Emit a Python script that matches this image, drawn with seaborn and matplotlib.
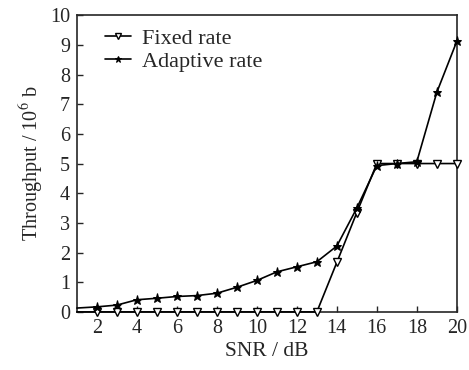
import matplotlib
matplotlib.use("Agg")
import matplotlib.pyplot as plt
import seaborn as sns
import pandas as pd

snr = [1, 2, 3, 4, 5, 6, 7, 8, 9, 10, 11, 12, 13, 14, 15, 16, 17, 18, 19, 20]
fixed_rate = [0, 0, 0, 0, 0, 0, 0, 0, 0, 0, 0, 0, 0, 1.67, 3.35, 5.0, 5.0, 5.0, 5.0, 5.0]
adaptive_rate = [0.13, 0.17, 0.23, 0.41, 0.46, 0.52, 0.55, 0.63, 0.83, 1.06, 1.35, 1.52, 1.69, 2.22, 3.5, 4.93, 5.0, 5.06, 7.4, 9.12]
series_names = ["Fixed rate", "Adaptive rate"]
x_ticks = [2, 4, 6, 8, 10, 12, 14, 16, 18, 20]
y_ticks = [0, 1, 2, 3, 4, 5, 6, 7, 8, 9, 10]

df = pd.DataFrame({
    "SNR": snr * 2,
    "Throughput": fixed_rate + adaptive_rate,
    "Series": [series_names[0]] * len(snr) + [series_names[1]] * len(snr),
})

sns.set_style("ticks")
plt.rcParams["font.family"] = ["Liberation Serif", "DejaVu Serif"]
plt.rcParams["mathtext.fontset"] = "stix"

fig = plt.figure(figsize=(4.69, 3.70), dpi=100)
ax = fig.add_axes([0.164, 0.157, 0.81, 0.802])

sns.lineplot(data=df, x="SNR", y="Throughput", hue="Series", style="Series",
             palette=["black", "black"], markers={"Fixed rate": "v", "Adaptive rate": "*"},
             dashes=False, ax=ax, linewidth=1.2, legend=False, markevery=list(range(1, 20)))

lines = ax.get_lines()
lines[0].set_markerfacecolor("white")
lines[0].set_markeredgecolor("black")
lines[0].set_markersize(6)
lines[0].set_markeredgewidth(1.0)
lines[1].set_markerfacecolor("black")
lines[1].set_markeredgecolor("black")
lines[1].set_markersize(6.5)
for l in lines:
    l.set_clip_on(False)
    l.set_zorder(3)
lines[1].set_zorder(4)

leg = ax.legend(lines, series_names, loc="upper left", frameon=False, fontsize=16,
          handlelength=1.15, handletextpad=0.5, borderaxespad=0.2, labelspacing=0.1,
          bbox_to_anchor=(0.04, 1.0), markerscale=0.75)

ax.set_xlim(1, 20)
ax.set_ylim(0, 10)
ax.set_xticks(x_ticks)
ax.set_yticks(y_ticks)
ax.tick_params(direction="in", length=4, labelsize=14.5, width=1, top=False, right=False, pad=5)
ax.set_xlabel("SNR / dB", fontsize=15.5, labelpad=3)
ax.set_ylabel("Throughput / 10$^6$ b", fontsize=14.5, labelpad=3)
for s in ax.spines.values():
    s.set_linewidth(1.2)
    s.set_visible(True)

fig.savefig("out.png", dpi=100)
